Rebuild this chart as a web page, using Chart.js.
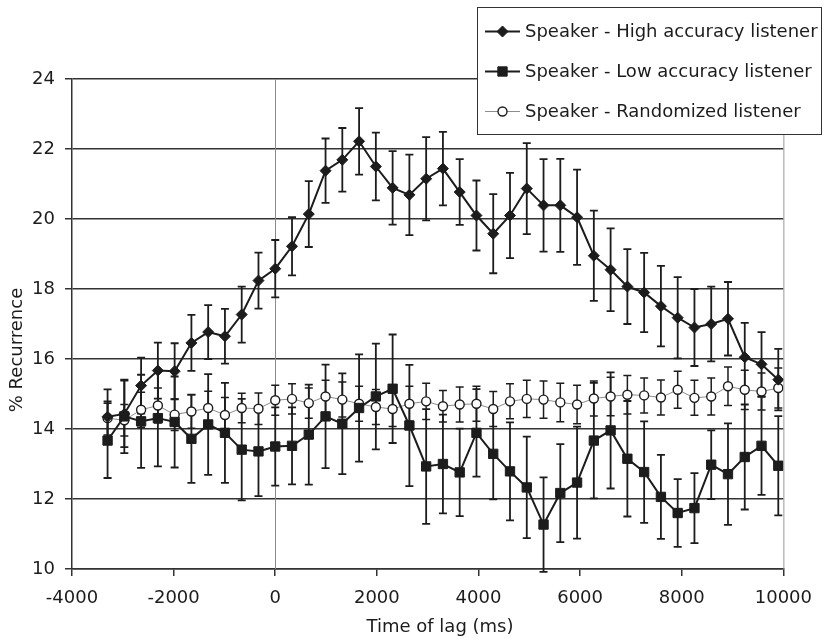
<!DOCTYPE html>
<html>
<head>
<meta charset="utf-8">
<script src="https://cdn.jsdelivr.net/npm/chart.js@4"></script>
<style>
  body { margin: 0; background: #fff; }
  canvas { display: block; }
</style>
</head>
<body>
<canvas id="chart" width="824" height="638"></canvas>
<script>
// lag times (ms)
const lags = [-3300, -2970, -2640, -2310, -1980, -1650, -1320, -990, -660, -330,
  0, 330, 660, 990, 1320, 1650, 1980, 2310, 2640, 2970,
  3300, 3630, 3960, 4290, 4620, 4950, 5280, 5610, 5940, 6270,
  6600, 6930, 7260, 7590, 7920, 8250, 8580, 8910, 9240, 9570, 9900];

const highAcc = [14.35, 14.43, 15.24, 15.67, 15.65, 16.46, 16.77, 16.65, 17.27, 18.24,
  18.58, 19.22, 20.14, 21.38, 21.69, 22.22, 21.5, 20.89, 20.69, 21.15,
  21.44, 20.77, 20.1, 19.58, 20.1, 20.87, 20.39, 20.39, 20.05, 18.95,
  18.55, 18.07, 17.9, 17.51, 17.18, 16.9, 17.0, 17.15, 16.05, 15.85, 15.41];
const highErr = [0.78, 0.95, 0.8, 0.8, 0.8, 0.8, 0.77, 0.78, 0.8, 0.8,
  0.82, 0.83, 0.94, 0.92, 0.91, 0.95, 0.97, 1.05, 1.15, 1.19,
  1.05, 0.94, 1.0, 1.13, 1.22, 1.3, 1.32, 1.33, 1.36, 1.29,
  1.18, 1.07, 1.13, 1.15, 1.16, 1.1, 1.07, 1.05, 0.98, 0.92, 0.88];

const lowAcc = [13.67, 14.36, 14.22, 14.31, 14.2, 13.72, 14.13, 13.89, 13.41, 13.36,
  13.5, 13.52, 13.84, 14.36, 14.15, 14.6, 14.93, 15.15, 14.1, 12.93,
  13.0, 12.76, 13.89, 13.29, 12.79, 12.33, 11.27, 12.17, 12.47, 13.67,
  13.96, 13.15, 12.77, 12.06, 11.6, 11.74, 12.98, 12.71, 13.2, 13.52, 12.95];
const lowErr = [1.07, 1.05, 1.33, 1.38, 1.3, 1.26, 1.44, 1.43, 1.45, 1.28,
  1.12, 1.1, 1.43, 1.48, 1.44, 1.53, 1.51, 1.55, 1.73, 1.64,
  1.41, 1.25, 1.25, 1.3, 1.4, 1.45, 1.35, 1.4, 1.6, 1.65,
  1.66, 1.65, 1.45, 1.2, 0.97, 1.0, 0.98, 1.45, 1.5, 1.4, 1.42];

const randomized = [14.31, 14.25, 14.55, 14.67, 14.41, 14.5, 14.6, 14.4, 14.6, 14.58,
  14.82, 14.86, 14.74, 14.93, 14.84, 14.72, 14.63, 14.57, 14.72, 14.79,
  14.65, 14.7, 14.72, 14.57, 14.79, 14.86, 14.84, 14.76, 14.7, 14.87,
  14.93, 14.98, 14.96, 14.9, 15.12, 14.89, 14.93, 15.22, 15.12, 15.07, 15.17];
const randomErr = [0.48, 0.45, 0.5, 0.5, 0.45, 0.48, 0.48, 0.5, 0.42, 0.45,
  0.43, 0.43, 0.43, 0.46, 0.5, 0.5, 0.5, 0.5, 0.5, 0.52,
  0.45, 0.5, 0.5, 0.5, 0.5, 0.53, 0.53, 0.55, 0.55, 0.5,
  0.55, 0.55, 0.5, 0.5, 0.53, 0.5, 0.53, 0.55, 0.56, 0.53, 0.57];

const seriesLabels = ['Speaker - High accuracy listener', 'Speaker - Low accuracy listener', 'Speaker - Randomized listener'];
const xTitle = 'Time of lag (ms)';
const yTitle = '% Recurrence';

const FONT = '"DejaVu Sans", Verdana, sans-serif';
const INK = '#1c1c1c';

function points(values) {
  return lags.map((t, i) => ({ x: t, y: values[i] }));
}

// error bars, zero line, right border
const errorBars = {
  id: 'errorBars',
  beforeDatasetsDraw(chart) {
    const ctx = chart.ctx;
    const xs = chart.scales.x, ys = chart.scales.y;
    const area = chart.chartArea;
    ctx.save();
    // vertical line at lag 0
    const x0 = Math.round(xs.getPixelForValue(0)) + 0.5;
    ctx.strokeStyle = '#8a8a8a';
    ctx.lineWidth = 1;
    ctx.beginPath();
    ctx.moveTo(x0, area.top);
    ctx.lineTo(x0, area.bottom);
    ctx.stroke();
    // right border
    ctx.strokeStyle = '#9a9a9a';
    ctx.beginPath();
    ctx.moveTo(area.right + 0.5, area.top);
    ctx.lineTo(area.right + 0.5, area.bottom);
    ctx.stroke();

    chart.data.datasets.forEach(ds => {
      ctx.strokeStyle = INK;
      ctx.lineWidth = ds.errWidth;
      ds.data.forEach((p, i) => {
        const e = ds.errors[i];
        const px = xs.getPixelForValue(p.x);
        const top = ys.getPixelForValue(p.y + e);
        const bot = ys.getPixelForValue(p.y - e);
        ctx.beginPath();
        ctx.moveTo(px, top);
        ctx.lineTo(px, bot);
        ctx.moveTo(px - 4, top);
        ctx.lineTo(px + 4, top);
        ctx.moveTo(px - 4, bot);
        ctx.lineTo(px + 4, bot);
        ctx.stroke();
      });
    });
    ctx.restore();
  },
  afterDraw(chart) {
    const ctx = chart.ctx;
    ctx.save();
    // axis titles
    ctx.fillStyle = INK;
    ctx.font = '18px ' + FONT;
    ctx.textAlign = 'center';
    ctx.textBaseline = 'middle';
    ctx.fillText(xTitle, 440, 627);
    ctx.translate(17, 350);
    ctx.rotate(-Math.PI / 2);
    ctx.fillText(yTitle, 0, 0);
    ctx.restore();

    // legend box
    ctx.save();
    ctx.fillStyle = '#fff';
    ctx.fillRect(477, 7, 344, 127);
    ctx.strokeStyle = '#333';
    ctx.lineWidth = 1;
    ctx.strokeRect(477.5, 7.5, 344, 127);
    chart.data.datasets.forEach((ds, i) => {
      const y = 31.5 + i * 40;
      ctx.strokeStyle = ds.borderColor;
      ctx.lineWidth = ds.borderWidth;
      ctx.beginPath();
      ctx.moveTo(485, y);
      ctx.lineTo(520, y);
      ctx.stroke();
      ctx.fillStyle = ds.pointBackgroundColor;
      ctx.strokeStyle = ds.pointBorderColor;
      ctx.lineWidth = ds.pointBorderWidth;
      Chart.helpers.drawPoint(ctx, {
        pointStyle: ds.pointStyle,
        radius: ds.pointRadius,
        rotation: 0,
        borderWidth: ds.pointBorderWidth
      }, 502.5, y);
      ctx.fillStyle = INK;
      ctx.font = '18px ' + FONT;
      ctx.textAlign = 'left';
      ctx.textBaseline = 'middle';
      ctx.fillText(ds.label, 525, y + 1);
    });
    ctx.restore();
  }
};

new Chart(document.getElementById('chart'), {
  type: 'line',
  data: {
    datasets: [
      {
        label: seriesLabels[0],
        data: points(highAcc),
        errors: highErr,
        errWidth: 1.8,
        borderColor: INK,
        borderWidth: 2,
        pointStyle: 'rectRot',
        pointRadius: 5.5,
        pointBackgroundColor: INK,
        pointBorderColor: INK,
        pointBorderWidth: 1
      },
      {
        label: seriesLabels[1],
        data: points(lowAcc),
        errors: lowErr,
        errWidth: 1.8,
        borderColor: INK,
        borderWidth: 2,
        pointStyle: 'rect',
        pointRadius: 6.6,
        pointBackgroundColor: INK,
        pointBorderColor: INK,
        pointBorderWidth: 1
      },
      {
        label: seriesLabels[2],
        data: points(randomized),
        errors: randomErr,
        errWidth: 1.5,
        borderColor: '#8c8c8c',
        borderWidth: 1,
        pointStyle: 'circle',
        pointRadius: 4.5,
        pointBackgroundColor: '#fff',
        pointBorderColor: INK,
        pointBorderWidth: 1.4
      }
    ]
  },
  options: {
    responsive: false,
    animation: false,
    devicePixelRatio: 1,
    layout: { padding: { top: 79, right: 40, left: 0, bottom: 0 } },
    plugins: {
      legend: { display: false },
      tooltip: { enabled: false }
    },
    elements: { line: { tension: 0 } },
    scales: {
      x: {
        type: 'linear',
        min: -4000,
        max: 10000,
        ticks: {
          stepSize: 2000, color: INK, font: { family: FONT, size: 18 }, padding: 12, maxRotation: 0,
          callback: v => String(v)
        },
        grid: { drawOnChartArea: false, drawTicks: true, tickLength: 7, color: '#333', lineWidth: 1.5 },
        border: { color: '#333', width: 1.5 },
        afterFit(s) { s.height = 69; }
      },
      y: {
        min: 10,
        max: 24,
        ticks: { stepSize: 2, color: INK, font: { family: FONT, size: 18 }, padding: 10, callback: v => String(v) },
        grid: { color: '#333', lineWidth: 1.5, tickLength: 7 },
        border: { color: '#333', width: 1.5 },
        afterFit(s) { s.width = 72; }
      }
    }
  },
  plugins: [errorBars]
});
</script>
</body>
</html>
